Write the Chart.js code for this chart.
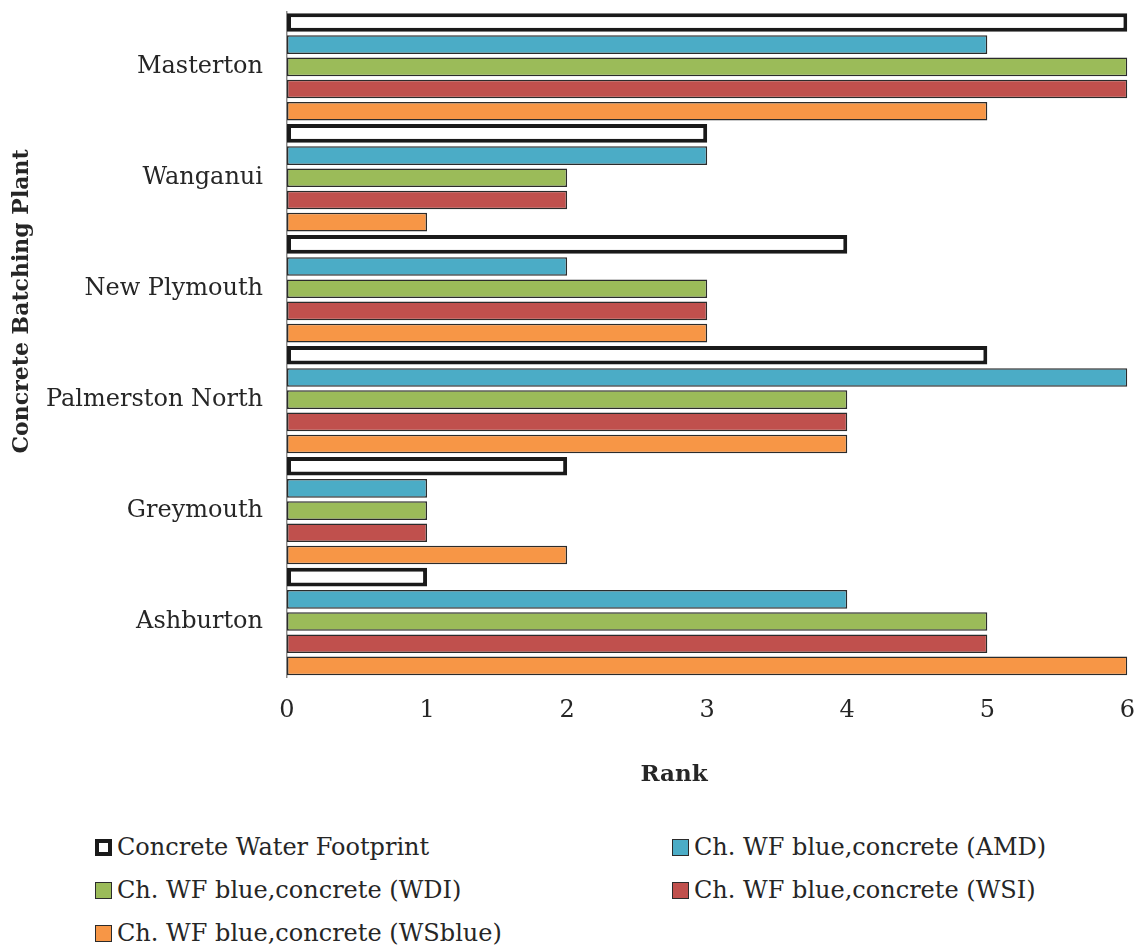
<!DOCTYPE html>
<html>
<head>
<meta charset="utf-8">
<script src="https://cdn.jsdelivr.net/npm/chart.js@4"></script>
<style>
  html, body { margin: 0; padding: 0; background: #fff; overflow: hidden; }
  #wrap { position: relative; width: 1144px; height: 948px; overflow: hidden; }
  #chartBox { position: absolute; left: 0; top: -27px; width: 1154px; height: 827px; }
  #legend { position: absolute; left: 95px; top: 828px; width: 1049px;
    display: grid; grid-template-columns: 577px 472px; row-gap: 5px;
    font-family: "DejaVu Serif", serif; font-size: 24px; color: #262626; }
  #legend .item { display: flex; align-items: center; height: 38px; white-space: nowrap; }
  #legend .sw { width: 17px; height: 17px; box-sizing: border-box; margin-right: 5px; }
</style>
</head>
<body>
<div id="wrap">
  <div id="chartBox"><canvas id="c"></canvas></div>
  <div id="legend"></div>
</div>
<script>
const plants = ['Masterton', 'Wanganui', 'New Plymouth', 'Palmerston North', 'Greymouth', 'Ashburton'];
const seriesNames = [
  'Concrete Water Footprint',
  'Ch. WF blue,concrete (AMD)',
  'Ch. WF blue,concrete (WDI)',
  'Ch. WF blue,concrete (WSI)',
  'Ch. WF blue,concrete (WSblue)'
];
const cwf    = [6, 3, 4, 5, 2, 1];
const amd    = [5, 3, 2, 6, 1, 4];
const wdi    = [6, 2, 3, 4, 1, 5];
const wsi    = [6, 2, 3, 4, 1, 5];
const wsblue = [5, 1, 3, 4, 2, 6];
const rankTicks = [0, 1, 2, 3, 4, 5, 6];
const xTitle = 'Rank';
const yTitle = 'Concrete Batching Plant';

const fills = ['#ffffff', '#4bacc6', '#9bbb59', '#c0504d', '#f79646'];
const values = [cwf, amd, wdi, wsi, wsblue];
const FONT = '"DejaVu Serif", serif';
const INK = '#262626';

const datasets = values.map((v, i) => ({
  label: seriesNames[i],
  data: v,
  backgroundColor: fills[i],
  borderColor: i === 0 ? '#1a1a1a' : '#2b2b2b',
  borderWidth: i === 0 ? 4 : 1.5,
  borderSkipped: false,
  barPercentage: 0.84,
  categoryPercentage: 1
}));

// axis titles sit off-centre in the original, so draw them by hand
const axisTitles = {
  id: 'axisTitles',
  afterDraw(chart) {
    const ctx = chart.ctx;
    const area = chart.chartArea;
    ctx.save();
    ctx.fillStyle = INK;
    ctx.font = 'bold 23px ' + FONT;
    ctx.textAlign = 'center';
    ctx.textBaseline = 'middle';
    ctx.fillText(xTitle, 674, area.bottom + 98);
    ctx.font = 'bold 22px ' + FONT;
    ctx.translate(22, area.top + 290);
    ctx.rotate(-Math.PI / 2);
    ctx.fillText(yTitle, 0, 0);
    ctx.restore();
  }
};

const chart = new Chart(document.getElementById('c'), {
  type: 'bar',
  data: { labels: plants, datasets },
  plugins: [axisTitles],
  options: {
    indexAxis: 'y',
    responsive: true,
    maintainAspectRatio: false,
    animation: false,
    layout: { padding: { top: 13, right: 8, left: 0, bottom: 0 } },
    plugins: { legend: { display: false }, tooltip: { enabled: false } },
    scales: {
      x: {
        min: 0, max: 6,
        afterBuildTicks: s => { s.ticks = rankTicks.map(v => ({ value: v })); },
        grid: { display: false, drawTicks: false },
        border: { display: false },
        ticks: { padding: 19, color: INK, font: { family: FONT, size: 24 } },
        afterFit: s => { s.height = 123; }
      },
      y: {
        grid: { display: false, drawTicks: false },
        border: { display: true, color: '#8c8c8c', width: 1.5 },
        ticks: { padding: 24, color: INK, font: { family: FONT, size: 24 } },
        afterFit: s => { s.width = 287; }
      }
    }
  }
});

// two-column legend below the chart
const legendEl = document.getElementById('legend');
chart.data.datasets.forEach(ds => {
  const item = document.createElement('div');
  item.className = 'item';
  const sw = document.createElement('span');
  sw.className = 'sw';
  sw.style.background = ds.backgroundColor;
  sw.style.border = (ds.borderWidth > 2 ? 4 : 1.5) + 'px solid ' + ds.borderColor;
  const txt = document.createElement('span');
  txt.textContent = ds.label;
  item.appendChild(sw);
  item.appendChild(txt);
  legendEl.appendChild(item);
});
</script>
</body>
</html>
